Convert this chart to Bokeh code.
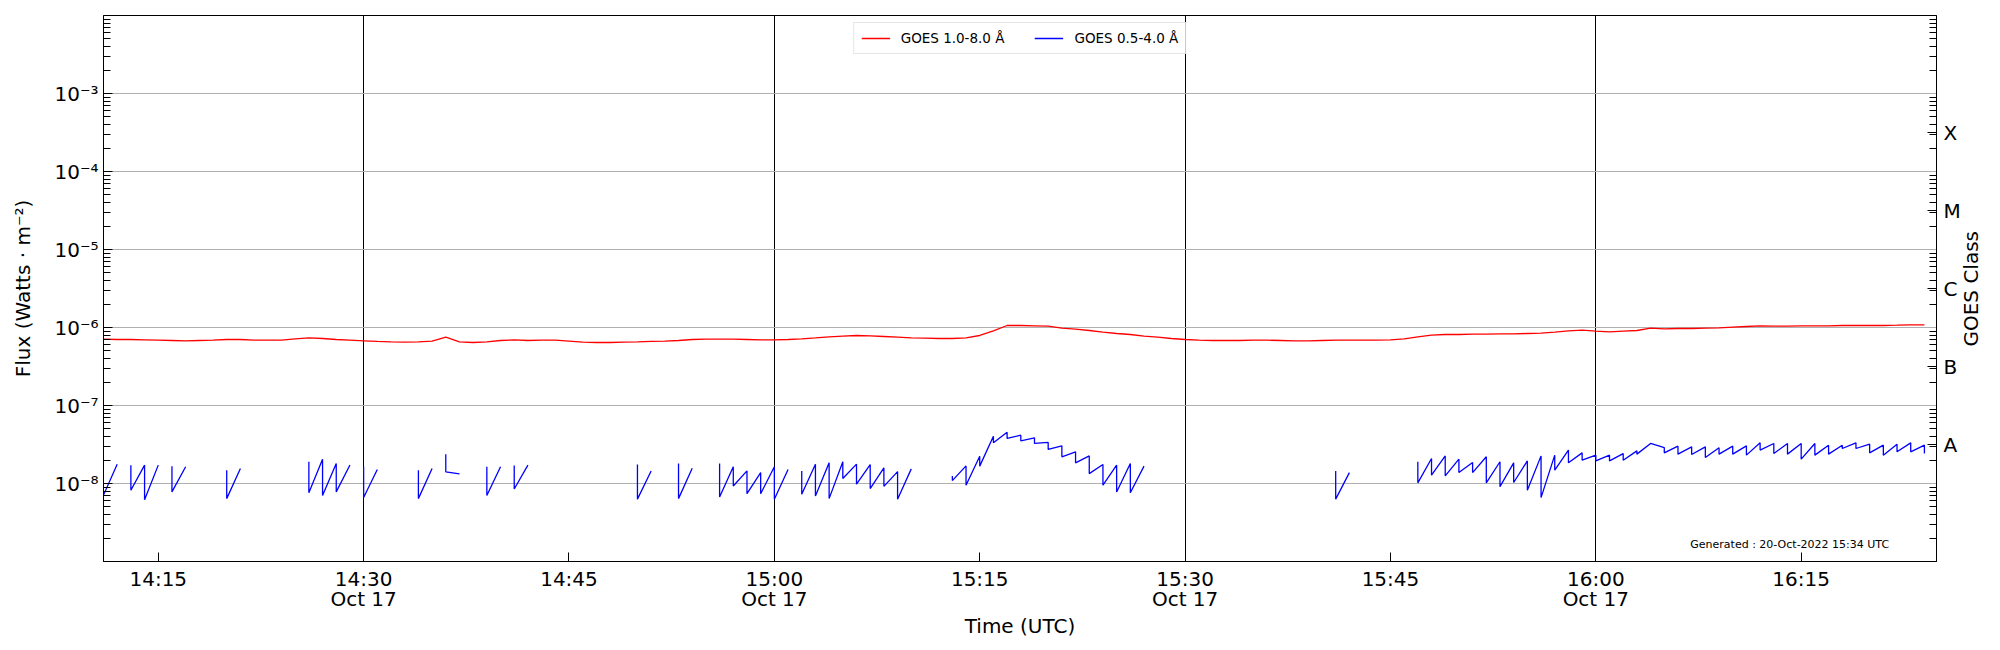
import math
import pandas as pd
from bokeh.plotting import figure
from bokeh.models import FixedTicker, LogAxis, Label, Range1d
from bokeh.embed import file_html
from bokeh.resources import INLINE

# ---------------- data ----------------
day_start = "2022-10-17 14:00:00"

x_tick_times = ["14:15", "14:30", "14:45", "15:00", "15:15", "15:30", "15:45", "16:00", "16:15"]
x_tick_labels = ["14:15", "14:30\nOct 17", "14:45", "15:00\nOct 17", "15:15",
                 "15:30\nOct 17", "15:45", "16:00\nOct 17", "16:15"]
marker_times = ["14:30", "15:00", "15:30", "16:00"]
x_start, x_end = "14:11:00", "16:24:53"

y_tick_values = [1e-8, 1e-7, 1e-6, 1e-5, 1e-4, 1e-3]
y_tick_labels = ["10⁻⁸", "10⁻⁷", "10⁻⁶", "10⁻⁵", "10⁻⁴", "10⁻³"]

class_exponents = [-7.5, -6.5, -5.5, -4.5, -3.5]
class_labels = ["A", "B", "C", "M", "X"]

# GOES 1.0-8.0 A, one value per minute from 14:11, in units of 1e-7 W m^-2
red_first_minute = 11
red_flux_e7 = [
    7.09, 7.02, 7.02, 6.95, 6.88, 6.81, 6.75, 6.81, 6.88, 7.02,
    7.02, 6.88, 6.88, 6.88, 7.16, 7.37, 7.23, 7.02, 6.88, 6.75,
    6.62, 6.55, 6.49, 6.55, 6.68, 7.52, 6.55, 6.42, 6.55, 6.81,
    6.95, 6.81, 6.88, 6.88, 6.68, 6.49, 6.42, 6.42, 6.49, 6.55,
    6.62, 6.68, 6.81, 7.02, 7.09, 7.09, 7.09, 7.02, 6.95, 6.95,
    7.02, 7.16, 7.37, 7.59, 7.74, 7.90, 7.82, 7.67, 7.52, 7.37,
    7.30, 7.23, 7.23, 7.37, 7.90, 9.06, 10.61, 10.61, 10.50, 10.40,
    9.80, 9.52, 9.15, 8.71, 8.38, 8.13, 7.74, 7.52, 7.23, 7.02,
    6.88, 6.81, 6.81, 6.81, 6.88, 6.88, 6.81, 6.75, 6.75, 6.81,
    6.88, 6.88, 6.88, 6.88, 6.95, 7.16, 7.59, 7.98, 8.13, 8.13,
    8.22, 8.22, 8.30, 8.30, 8.38, 8.46, 8.71, 9.06, 9.24, 8.98,
    8.80, 8.98, 9.15, 9.80, 9.61, 9.71, 9.71, 9.80, 9.90, 10.10,
    10.30, 10.50, 10.40, 10.40, 10.50, 10.50, 10.50, 10.61, 10.61, 10.61,
    10.61, 10.71, 10.82, 10.82,
]

# GOES 0.5-4.0 A, minutes after 14:00 and flux in units of 1e-8 W m^-2 (None = gap)
blue_minute = [
    11, 12, None,
    13, 13, 14, 14, 15, None,
    16, 16, 17, None,
    20, 20, 21, None,
    26, 26, 27, 27, 28, 28, 29, None,
    30, 30, 31, None,
    34, 34, 35, None,
    36, 36, 37, None,
    39, 39, 40, None,
    41, 41, 42, None,
    50, 50, 51, None,
    53, 53, 54, None,
    56, 56, 57, 57, 58, 58, 59, 59, 60, 60, 61, None,
    62, 62, 63, 63, 64, 64, 65, 65, 66, 66, 67, 67, 68, 68, 69, 69, 70, None,
    73, 73, 74, 74, 75, 75, 76, 76, 77, 77, 78, 78, 79, 79, 80, 80,
    81, 81, 82, 82, 83, 83, 84, 84, 85, 85, 86, 86, 87, None,
    101, 101, 102, None,
    107, 107, 108, 108, 109, 109, 110, 110, 111, 111, 112, 112, 113, 113,
    114, 114, 115, 115, 116, 116, 117, 117, 118, 118, 119, 119, 120, 120,
    121, 121, 122, 122, 123, 123, 124, 125, 125, 126, 126, 127, 127, 128, 128,
    129, 129, 130, 130, 131, 131, 132, 132, 133, 133, 134, 134, 135, 135,
    136, 136, 137, 137, 138, 138, 139, 139, 140, 140, 141, 141, 142, 142,
    143, 143, 144, 144,
]
blue_flux_e8 = [
    0.71, 1.77, None,
    1.72, 0.82, 1.72, 0.62, 1.72, None,
    1.67, 0.78, 1.64, None,
    1.48, 0.64, 1.56, None,
    1.90, 0.76, 2.05, 0.70, 1.80, 0.78, 1.73, None,
    1.64, 0.66, 1.51, None,
    1.48, 0.64, 1.56, None,
    2.38, 1.41, 1.33, None,
    1.64, 0.70, 1.64, None,
    1.70, 0.85, 1.72, None,
    1.75, 0.63, 1.45, None,
    1.80, 0.64, 1.57, None,
    1.80, 0.67, 1.64, 0.93, 1.45, 0.74, 1.38, 0.74, 1.64, 0.63, 1.51, None,
    1.45, 0.73, 1.77, 0.69, 1.84, 0.64, 1.90, 1.16, 1.77, 0.98, 1.75, 0.86, 1.59, 0.92, 1.42, 0.63, 1.54, None,
    1.25, 1.09, 1.68, 0.95, 2.24, 1.67, 4.04, 3.32, 4.55, 3.78, 4.17, 3.52, 3.85, 3.26, 3.36, 2.73,
    3.04, 2.20, 2.55, 1.84, 2.26, 1.34, 1.75, 0.95, 1.72, 0.78, 1.80, 0.76, 1.67, None,
    1.45, 0.63, 1.38, None,
    1.90, 1.02, 2.09, 1.28, 2.26, 1.25, 2.05, 1.38, 1.86, 1.38, 2.20, 1.02, 1.90, 0.91,
    1.84, 1.03, 1.95, 0.82, 2.26, 0.66, 2.31, 1.48, 2.68, 1.84, 2.47, 1.99, 2.31, 1.95,
    2.31, 1.95, 2.42, 1.99, 2.62, 2.38, 3.26, 2.89, 2.47, 3.01, 2.38, 2.95, 2.35, 2.95, 2.15,
    2.87, 2.38, 3.01, 2.38, 3.04, 2.31, 3.32, 2.68, 3.26, 2.42, 3.26, 2.38, 3.26, 2.05,
    3.26, 2.31, 3.10, 2.38, 3.10, 2.81, 3.32, 2.81, 3.19, 2.47, 3.10, 2.31, 3.19, 2.55,
    3.32, 2.55, 3.10, 2.42,
]

generated_text = "Generated : 20-Oct-2022 15:34 UTC"
generated_at = ("16:06:54", 1.67e-9)

class_axis_title = "GOES Class"
# the rotated title is drawn from this level upwards (centred on the frame)
class_axis_title_start_exp = -6.244

# ---------------- helpers ----------------
base = pd.Timestamp(day_start)
base_ms = base.value / 1e6


def minute_ms(m):
    return base_ms + m * 60000.0


def clock_ms(hhmm):
    return pd.Timestamp(f"{base.date()} {hhmm}").value / 1e6


red_x = [minute_ms(red_first_minute + i) for i in range(len(red_flux_e7))]
red_y = [v * 1e-7 for v in red_flux_e7]
blue_x = [minute_ms(m) if m is not None else float("nan") for m in blue_minute]
blue_y = [v * 1e-8 if v is not None else float("nan") for v in blue_flux_e8]

FONT = "DejaVu Sans"
Y_LO, Y_HI = 1e-9, 1e-2

p = figure(
    width=1998, height=645,
    x_axis_type="datetime", y_axis_type="log",
    x_range=Range1d(clock_ms(x_start), clock_ms(x_end)),
    y_range=Range1d(Y_LO, Y_HI),
    output_backend="svg", toolbar_location=None,
    min_border_left=103, min_border_right=62, min_border_top=15, min_border_bottom=84,
)
p.background_fill_color = "white"
p.border_fill_color = "white"
p.outline_line_color = "black"
p.outline_line_width = 1

p.line(red_x, red_y, line_color="#ff0000", line_width=1.3, legend_label="GOES 1.0-8.0 Å")
p.line(blue_x, blue_y, line_color="#0000ff", line_width=1.3, legend_label="GOES 0.5-4.0 Å")

# log minor ticks
minor = [k * 10.0 ** e for e in range(-9, -2) for k in range(2, 10)]


def style_axis(ax):
    ax.major_tick_in = 9
    ax.major_tick_out = 0
    ax.minor_tick_in = 7
    ax.minor_tick_out = 0
    ax.axis_line_color = "black"
    ax.major_tick_line_color = "black"
    ax.minor_tick_line_color = "black"
    ax.major_label_text_font = FONT
    ax.major_label_text_font_size = "20px"
    ax.major_label_text_color = "black"
    ax.axis_label_text_font = FONT
    ax.axis_label_text_font_size = "20px"
    ax.axis_label_text_font_style = "normal"
    ax.axis_label_text_color = "black"


# x axis
xax = p.xaxis[0]
x_ticks = [clock_ms(t) for t in x_tick_times]
xax.ticker = FixedTicker(ticks=x_ticks, minor_ticks=[])
xax.major_label_overrides = {t: l for t, l in zip(x_ticks, x_tick_labels)}
xax.axis_label = "Time (UTC)"
style_axis(xax)
xax.major_label_standoff = 5
xax.major_label_text_line_height = 0.85
xax.axis_label_standoff = 0

# left y axis
yax = p.yaxis[0]
yax.ticker = FixedTicker(ticks=y_tick_values, minor_ticks=minor)
yax.major_label_overrides = {t: l for t, l in zip(y_tick_values, y_tick_labels)}
yax.axis_label = "Flux (Watts · m⁻²)"
style_axis(yax)
yax.major_label_standoff = 5
yax.axis_label_standoff = 16

# right GOES class axis (letters)
class_ticks = [10.0 ** e for e in class_exponents]
rax = LogAxis(ticker=FixedTicker(ticks=class_ticks, minor_ticks=minor))
rax.major_label_overrides = {t: l for t, l in zip(class_ticks, class_labels)}
style_axis(rax)
rax.major_label_standoff = 7
p.add_layout(rax, "right")

# right axis title "GOES Class", reading bottom-to-top (a rotated tick label)
title_tick = 10.0 ** class_axis_title_start_exp
tax = LogAxis(ticker=FixedTicker(ticks=[title_tick], minor_ticks=[]))
style_axis(tax)
tax.axis_line_color = None
tax.major_tick_line_color = None
tax.minor_tick_line_color = None
tax.major_label_overrides = {title_tick: class_axis_title}
tax.major_label_orientation = math.pi / 2
tax.major_label_standoff = 8
p.add_layout(tax, "right")

# grids
p.ygrid.grid_line_color = "#b0b0b0"
p.ygrid.grid_line_width = 1
p.xgrid.ticker = FixedTicker(ticks=[clock_ms(t) for t in marker_times])
p.xgrid.grid_line_color = "black"
p.xgrid.grid_line_width = 1

# generated stamp
p.add_layout(Label(x=clock_ms(generated_at[0]), y=generated_at[1], text=generated_text,
                   text_font=FONT, text_font_size="11px", text_color="black",
                   text_baseline="middle", text_align="left"))

# legend
lg = p.legend[0]
lg.location = "top_center"
lg.orientation = "horizontal"
lg.margin = 7
lg.padding = 7
lg.spacing = 30
lg.glyph_width = 29
lg.glyph_height = 14
lg.label_standoff = 11
lg.label_text_font = FONT
lg.label_text_font_size = "13.5px"
lg.label_text_color = "black"
lg.border_line_color = "#cccccc"
lg.border_line_width = 1
lg.background_fill_alpha = 0.8

open("out.html", "w").write(file_html(p, INLINE))
